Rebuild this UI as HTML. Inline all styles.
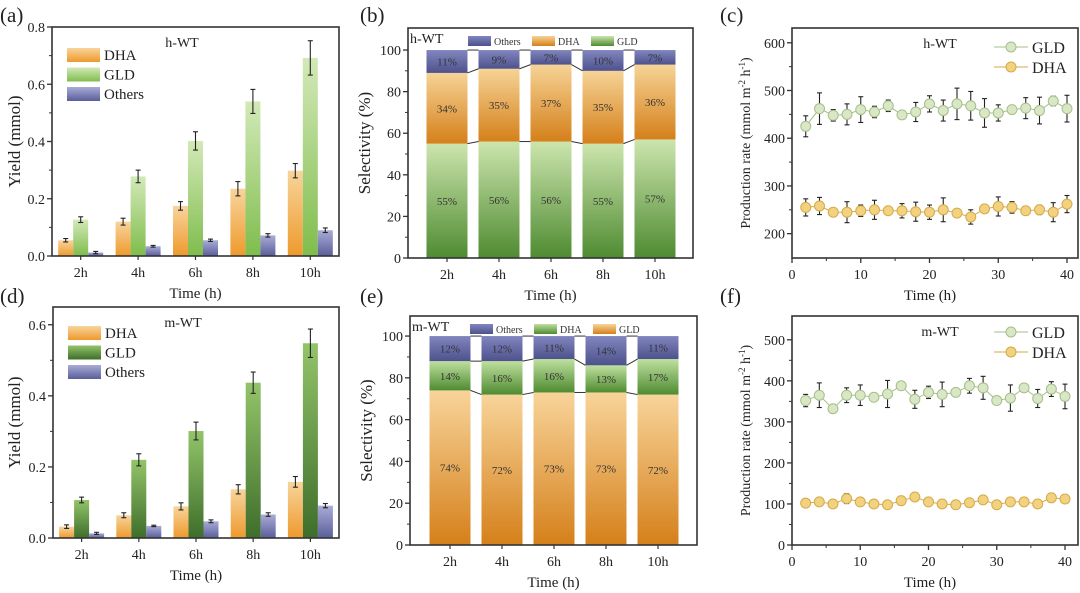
<!DOCTYPE html>
<html><head><meta charset="utf-8"><style>
html,body{margin:0;padding:0;background:#fff;}
svg{display:block;font-family:"Liberation Serif",serif;}
</style></head><body>
<svg id="fig" width="1080" height="593" viewBox="0 0 1080 593" xmlns="http://www.w3.org/2000/svg">
<defs>
<linearGradient id="gOrange" x1="0" y1="0" x2="0" y2="1"><stop offset="0" stop-color="#f8d49c"/><stop offset="1" stop-color="#ee9a2c"/></linearGradient>
<linearGradient id="gLGreen" x1="0" y1="0" x2="0" y2="1"><stop offset="0" stop-color="#d3e9b8"/><stop offset="1" stop-color="#7fbd4c"/></linearGradient>
<linearGradient id="gDGreen" x1="0" y1="0" x2="0" y2="1"><stop offset="0" stop-color="#93c46a"/><stop offset="1" stop-color="#3e6e2a"/></linearGradient>
<linearGradient id="gPurple" x1="0" y1="0" x2="0" y2="1"><stop offset="0" stop-color="#a9acd6"/><stop offset="1" stop-color="#5a5e9a"/></linearGradient>
<linearGradient id="gPurpleS" x1="0" y1="0" x2="0" y2="1"><stop offset="0" stop-color="#8286bf"/><stop offset="1" stop-color="#4e528c"/></linearGradient>
<linearGradient id="gSelG" x1="0" y1="0" x2="0" y2="1"><stop offset="0" stop-color="#cce5ae"/><stop offset="1" stop-color="#4f8b31"/></linearGradient>
<linearGradient id="gSelD" x1="0" y1="0" x2="0" y2="1"><stop offset="0" stop-color="#f6d396"/><stop offset="1" stop-color="#d5801a"/></linearGradient>
<linearGradient id="gSelE" x1="0" y1="0" x2="0" y2="1"><stop offset="0" stop-color="#bfe09f"/><stop offset="1" stop-color="#4f8b31"/></linearGradient>
<linearGradient id="gSelO" x1="0" y1="0" x2="0" y2="1"><stop offset="0" stop-color="#f8d49a"/><stop offset="1" stop-color="#d5801a"/></linearGradient>
</defs>
</svg>
<script>
// ---- data ----
const cats=['2h','4h','6h','8h','10h'];
const aDHA=[0.055,0.12,0.175,0.235,0.298];
const aGLD=[0.127,0.278,0.402,0.54,0.692];
const aOth=[0.012,0.034,0.055,0.072,0.09];
const aDHAerr=[0.006,0.012,0.015,0.025,0.025];
const aGLDerr=[0.01,0.022,0.032,0.042,0.06];
const aOtherr=[0.004,0.003,0.004,0.006,0.008];
const dDHA=[0.032,0.064,0.089,0.137,0.158];
const dGLD=[0.107,0.22,0.301,0.437,0.548];
const dOth=[0.013,0.034,0.047,0.066,0.091];
const dDHAerr=[0.005,0.007,0.01,0.013,0.015];
const dGLDerr=[0.008,0.017,0.025,0.03,0.04];
const dOtherr=[0.003,0.002,0.004,0.005,0.006];
const bGLD=[55,56,56,55,57];
const bDHA=[34,35,37,35,36];
const bOth=[11,9,7,10,7];
const eGLD=[74,72,73,73,72];
const eDHA=[14,16,16,13,17];
const eOth=[12,12,11,14,11];
const times=[2,4,6,8,10,12,14,16,18,20,22,24,26,28,30,32,34,36,38,40];
const cGLD=[425,462,448,450,460,455,468,449,455,472,458,472,468,453,453,460,463,458,478,462];
const cGLDerr=[22,33,12,22,27,12,12,5,20,17,22,33,30,30,17,8,22,28,10,28];
const cDHA=[255,258,245,245,248,250,248,248,246,245,250,243,235,252,257,255,248,250,245,262];
const cDHAerr=[18,18,5,22,12,20,5,15,20,15,25,5,15,5,20,12,5,10,20,18];
const fGLD=[352,365,332,365,365,360,368,388,355,372,367,372,388,383,352,358,383,357,380,362];
const fGLDerr=[15,30,5,18,25,10,33,8,22,15,30,8,18,28,8,32,8,22,18,30];
const fDHA=[102,105,100,113,105,100,98,108,117,105,100,98,103,110,98,105,105,100,115,112];
const fDHAerr=[8,8,8,12,8,5,5,8,8,8,5,5,5,5,5,5,5,5,5,5];

const NS='http://www.w3.org/2000/svg';
const svg=document.getElementById('fig');
function el(tag,attrs,parent,txt){const e=document.createElementNS(NS,tag);for(const k in attrs)e.setAttribute(k,attrs[k]);if(txt!==undefined)e.textContent=txt;(parent||svg).appendChild(e);return e;}
function lin(d0,d1,r0,r1){return v=>r0+(v-d0)/(d1-d0)*(r1-r0);}

function frame(g,x0,y0,x1,y1){
  const r=el('rect',{x:x0,y:y0,width:x1-x0,height:y1-y0,fill:'none',stroke:'#333','stroke-width':1.6},g);
  
  
}
function yAxis(g,x0,ys,ticks,labels,minor){
  ticks.forEach((t,i)=>{
    el('line',{x1:x0-5,x2:x0,y1:ys(t),y2:ys(t),stroke:'#333','stroke-width':1.3},g);
    const tl=el('text',{x:x0-7,y:ys(t)+5,'text-anchor':'end','font-size':14,fill:'#222'},g,labels[i]);
    
    
  });
  minor.forEach(t=>el('line',{x1:x0-3,x2:x0,y1:ys(t),y2:ys(t),stroke:'#333','stroke-width':1},g));
}
function xLabel(g,x,y,t,size){
  return el('text',{x:x,y:y,'text-anchor':'middle','font-size':size||14,fill:'#222'},g,t);
}
function yTitle(g,x,y,t){
  const e=el('text',{x:0,y:0,'text-anchor':'middle','font-size':17,fill:'#222',transform:`translate(${x},${y}) rotate(-90)`},g,t);
  
  
  return e;
}
function panelLabel(x,y,t){
  const e=el('text',{x:x,y:y,'font-size':21,fill:'#222'},svg,t);
  
  
}
function errBar(g,x,y1,y2,w){
  el('line',{x1:x,x2:x,y1:y1,y2:y2,stroke:'#222','stroke-width':1.1},g);
  el('line',{x1:x-w,x2:x+w,y1:y1,y2:y1,stroke:'#222','stroke-width':1.1},g);
  el('line',{x1:x-w,x2:x+w,y1:y2,y2:y2,stroke:'#222','stroke-width':1.1},g);
}

// ---- grouped bar panels ----
function barPanel(name,P,series,errs,fills,ymax,ticks,tickLbl,minor,tag,legY){
  const g=el('g',{},svg);
  
  
  const ys=lin(0,ymax,P.y1,P.y0);
  const band=(P.x1-P.x0)/cats.length;
  const xc=i=>P.x0+(i+0.5)*band;
  const bw=15, offs=[-15,0,15];
  series.forEach((s,si)=>{
    s.forEach((v,i)=>{
      const x=xc(i)+offs[si]-bw/2;
      const r=el('rect',{x:x,y:ys(v),width:bw,height:P.y1-ys(v),fill:fills[si]},g);
      
      
      errBar(g,xc(i)+offs[si],ys(v+errs[si][i]),ys(v-errs[si][i]),2.5);
    });
  });
  frame(g,P.x0,P.y0,P.x1,P.y1);
  yAxis(g,P.x0,ys,ticks,tickLbl,minor);
  cats.forEach((c,i)=>{
    el('line',{x1:xc(i),x2:xc(i),y1:P.y1,y2:P.y1+4,stroke:'#333','stroke-width':1.2},g);
    const t=xLabel(g,xc(i),P.y1+21,c);
    
    
  });
  const xt=xLabel(g,(P.x0+P.x1)/2,P.y1+42,'Time (h)',15);
  
  
  yTitle(g,20,(P.y0+P.y1)/2,'Yield (mmol)');
  const tg=el('text',{x:P.x0+130,y:P.y0+20,'text-anchor':'middle','font-size':14,fill:'#222'},g,tag);
  
  
  ['DHA','GLD','Others'].forEach((n,i)=>{
    const sw=el('rect',{x:P.x0+15,y:legY+i*19.5,width:33,height:14,fill:fills[i]},g);
    
    
    const lt=el('text',{x:P.x0+52,y:legY+i*19.5+12,'font-size':15,fill:'#222'},g,n);
    
    
  });
}
barPanel('panel-a-yield-hwt',{x0:52,y0:27,x1:339,y1:256},[aDHA,aGLD,aOth],[aDHAerr,aGLDerr,aOtherr],
  ['url(#gOrange)','url(#gLGreen)','url(#gPurple)'],0.8,[0,0.2,0.4,0.6,0.8],['0.0','0.2','0.4','0.6','0.8'],[0.1,0.3,0.5,0.7],'h-WT',48);
barPanel('panel-d-yield-mwt',{x0:53,y0:307,x1:339,y1:538},[dDHA,dGLD,dOth],[dDHAerr,dGLDerr,dOtherr],
  ['url(#gOrange)','url(#gDGreen)','url(#gPurple)'],0.65,[0,0.2,0.4,0.6],['0.0','0.2','0.4','0.6'],[0.1,0.3,0.5],'m-WT',326);

// ---- stacked selectivity panels ----
function stackPanel(name,P,c0,c1,layers,fills,names,legNames,legFills,tag){
  const g=el('g',{},svg);
  
  
  const ys=lin(0,P.top,P.y1,P.y0);
  const xc=lin(0,4,c0,c1);
  const bw=41;
  const bounds=[];
  cats.forEach((c,i)=>{
    let base=0;const b=[];
    layers.forEach((L,li)=>{
      const v=L[i];
      const r=el('rect',{x:xc(i)-bw/2,y:ys(base+v),width:bw,height:ys(base)-ys(base+v),fill:fills[li]},g);
      
      
      const t=el('text',{x:xc(i),y:(ys(base)+ys(base+v))/2+4,'text-anchor':'middle','font-size':11,fill:'#333'},g,v+'%');
      
      
      base+=v;b.push(base);
    });
    bounds.push(b);
  });
  for(let i=0;i<4;i++){
    bounds[i].forEach((v,k)=>{
      el('line',{x1:xc(i)+bw/2,x2:xc(i+1)-bw/2,y1:ys(v),y2:ys(bounds[i+1][k]),stroke:'#333','stroke-width':1},g);
    });
  }
  frame(g,P.x0,P.y0,P.x1,P.y1);
  yAxis(g,P.x0,ys,[0,20,40,60,80,100],['0','20','40','60','80','100'],[10,30,50,70,90]);
  cats.forEach((c,i)=>{
    el('line',{x1:xc(i),x2:xc(i),y1:P.y1,y2:P.y1+4,stroke:'#333','stroke-width':1.2},g);
    const t=xLabel(g,xc(i),P.y1+21,c);
    
    
  });
  const xt=xLabel(g,(P.x0+P.x1)/2,P.y1+42,'Time (h)',15);
  
  
  yTitle(g,P.x0-38,(P.y0+P.y1)/2,'Selectivity (%)');
  const tg=el('text',{x:P.x0+2,y:P.y0+15,'font-size':14,fill:'#222'},g,tag);
  
  
  const lx=[P.x0+60,P.x0+124,P.x0+183];
  legNames.forEach((n,i)=>{
    const sw=el('rect',{x:lx[i],y:P.y0+8,width:23,height:10,fill:legFills[i]},g);
    
    
    const lt=el('text',{x:lx[i]+26,y:P.y0+17,'font-size':10,fill:'#333'},g,n);
    
    
  });
}
stackPanel('panel-b-selectivity-hwt',{x0:408,y0:28,x1:693,y1:258,top:110.6},447,655,[bGLD,bDHA,bOth],
  ['url(#gSelG)','url(#gSelD)','url(#gPurpleS)'],['gld','dha','others'],['Others','DHA','GLD'],['url(#gPurpleS)','url(#gSelD)','url(#gSelG)'],'h-WT');
stackPanel('panel-e-selectivity-mwt',{x0:410,y0:316,x1:697,y1:545,top:109.6},450,658,[eGLD,eDHA,eOth],
  ['url(#gSelO)','url(#gSelE)','url(#gPurpleS)'],['gld','dha','others'],['Others','DHA','GLD'],['url(#gPurpleS)','url(#gSelE)','url(#gSelO)'],'m-WT');

// ---- production rate panels ----
function ratePanel(name,P,ymin,ymax,x40,yt,ymn,gld,gErr,dha,dErr,tag,legY){
  const g=el('g',{},svg);
  
  
  const ys=lin(ymin,ymax,P.y1,P.y0);
  const xs=lin(0,40,P.x0,x40);
  const series=[[gld,gErr,'#d9e7c6','#a6bf88','gld'],[dha,dErr,'#f2d27e','#d4aa4a','dha']];
  series.forEach(([v,e,f,s,n])=>{
    const pts=times.map((t,i)=>xs(t)+','+ys(v[i])).join(' ');
    const pl=el('polyline',{points:pts,fill:'none',stroke:s,'stroke-width':1},g);
    
    
    times.forEach((t,i)=>{
      errBar(g,xs(t),ys(v[i]+e[i]),ys(v[i]-e[i]),2.5);
      const c=el('circle',{cx:xs(t),cy:ys(v[i]),r:5,fill:f,stroke:s,'stroke-width':1},g);
      
      
    });
  });
  frame(g,P.x0,P.y0,P.x1,P.y1);
  yAxis(g,P.x0,ys,yt,yt.map(String),ymn);
  [0,10,20,30,40].forEach(t=>{
    el('line',{x1:xs(t),x2:xs(t),y1:P.y1,y2:P.y1+5,stroke:'#333','stroke-width':1.3},g);
    const tl=xLabel(g,xs(t),P.y1+21,String(t));
    
    
  });
  [5,15,25,35].forEach(t=>el('line',{x1:xs(t),x2:xs(t),y1:P.y1,y2:P.y1+3,stroke:'#333','stroke-width':1},g));
  const xt=xLabel(g,(P.x0+P.x1)/2-5,P.y1+42,'Time (h)',15);
  
  
  const yt2=el('text',{x:0,y:0,'text-anchor':'middle','font-size':14,fill:'#222',transform:`translate(${P.x0-42},${(P.y0+P.y1)/2}) rotate(-90)`},g);
  
  
  el('tspan',{},yt2,'Production rate (mmol m');
  el('tspan',{dy:-5,'font-size':9},yt2,'-2');
  el('tspan',{dy:5},yt2,' h');
  el('tspan',{dy:-5,'font-size':9},yt2,'-1');
  el('tspan',{dy:5},yt2,')');
  const tg=el('text',{x:P.x0+148,y:P.y0+20,'text-anchor':'middle','font-size':14,fill:'#222'},g,tag);
  
  
  [['GLD','#d9e7c6','#a6bf88'],['DHA','#f2d27e','#d4aa4a']].forEach(([n,f,s],i)=>{
    const y=legY+i*20;
    el('line',{x1:P.x0+202,x2:P.x0+236,y1:y,y2:y,stroke:s,'stroke-width':1},g);
    const c=el('circle',{cx:P.x0+219,cy:y,r:5,fill:f,stroke:s},g);
    
    
    const lt=el('text',{x:P.x0+240,y:y+6,'font-size':16,fill:'#222'},g,n);
    
    
  });
}
ratePanel('panel-c-rate-hwt',{x0:792,y0:28,x1:1078,y1:258},149,631,1067,[200,300,400,500,600],[250,350,450,550],cGLD,cGLDerr,cDHA,cDHAerr,'h-WT',47);
ratePanel('panel-f-rate-mwt',{x0:792,y0:316,x1:1078,y1:545},0,558,1065,[0,100,200,300,400,500],[50,150,250,350,450],fGLD,fGLDerr,fDHA,fDHAerr,'m-WT',332);

panelLabel(0,22,'(a)');panelLabel(360,22,'(b)');panelLabel(720,22,'(c)');
panelLabel(0,303,'(d)');panelLabel(360,303,'(e)');panelLabel(720,303,'(f)');
</script>
</body></html>
